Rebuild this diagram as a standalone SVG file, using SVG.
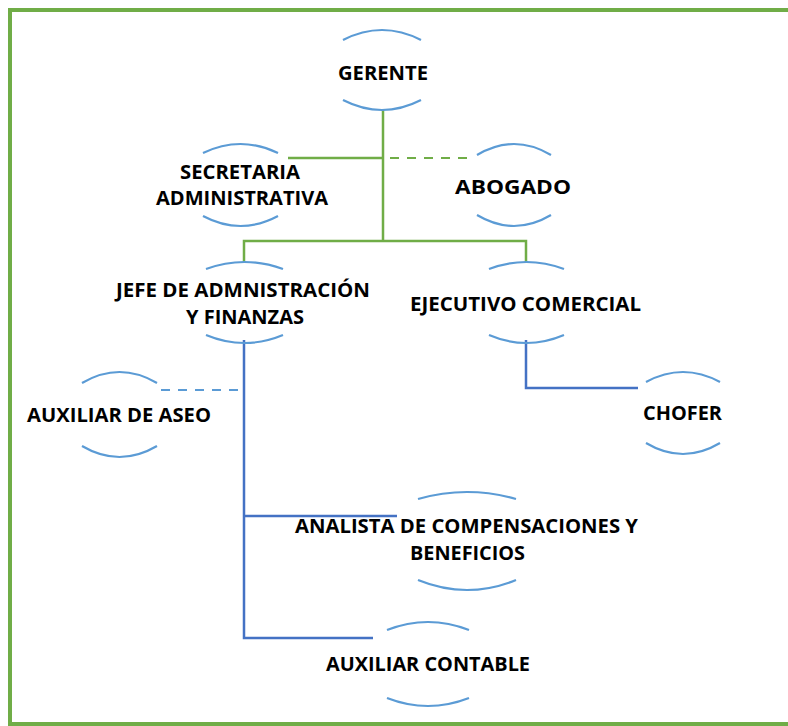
<svg xmlns="http://www.w3.org/2000/svg" width="788" height="726" viewBox="0 0 788 726">
<style>
.arc{fill:none;stroke:#5B9BD5;stroke-width:2.2;stroke-linecap:butt}
.t{font-family:"Open Sans","Liberation Sans",sans-serif;font-weight:bold;font-size:20px;fill:#000;text-anchor:middle}
.g{fill:none;stroke:#70AD47;stroke-width:2.5}
.gd{fill:none;stroke:#70AD47;stroke-width:2;stroke-dasharray:9 8}
.b{fill:none;stroke:#4472C4;stroke-width:2.5}
.bd{fill:none;stroke:#5B9BD5;stroke-width:2;stroke-dasharray:9 8}
</style>
<rect x="0" y="0" width="788" height="726" fill="#fff"/>
<path id="frame" d="M788 10H10V724H788" fill="none" stroke="#70AD47" stroke-width="4"/>
<g id="connectors">
<path class="g" d="M383 110V241M288 158H383M244 262V241H526V262"/>
<path class="gd" d="M390 158H470"/>
<path class="b" d="M244 340V638H373M244 516H397M526 340V388H638"/>
<path class="bd" d="M161 390H239"/>
</g>
<g id="gerente">
<path class="arc" d="M343 40Q382 20 421 40M343 100Q382 120 421 100"/>
<text class="t" x="383" y="80" font-size="22" textLength="90" lengthAdjust="spacingAndGlyphs">GERENTE</text>
</g>
<g id="secretaria">
<path class="arc" d="M203 153Q240.5 135 278 153M203 216Q240.5 236 278 216"/>
<text class="t" x="240" y="179" textLength="120" lengthAdjust="spacingAndGlyphs">SECRETARIA</text>
<text class="t" x="242" y="205" textLength="172" lengthAdjust="spacingAndGlyphs">ADMINISTRATIVA</text>
</g>
<g id="abogado">
<path class="arc" d="M477 155Q514 133 551 155M477 215Q514 237 551 215"/>
<text class="t" x="513" y="194" font-size="24" textLength="116" lengthAdjust="spacingAndGlyphs">ABOGADO</text>
</g>
<g id="jefe">
<path class="arc" d="M206 269Q244.5 255 283 269M206 335Q244.5 351 283 335"/>
<text class="t" x="243" y="297" textLength="254" lengthAdjust="spacingAndGlyphs">JEFE DE ADMNISTRACIÓN</text>
<text class="t" x="245" y="324" textLength="118" lengthAdjust="spacingAndGlyphs">Y FINANZAS</text>
</g>
<g id="ejecutivo">
<path class="arc" d="M489 269Q526.5 255 564 269M489 335Q526.5 351 564 335"/>
<text class="t" x="525.5" y="311" textLength="231" lengthAdjust="spacingAndGlyphs">EJECUTIVO COMERCIAL</text>
</g>
<g id="aseo">
<path class="arc" d="M82 383Q119.5 361 157 383M82 446Q119.5 468 157 446"/>
<text class="t" x="119" y="422" textLength="184" lengthAdjust="spacingAndGlyphs">AUXILIAR DE ASEO</text>
</g>
<g id="chofer">
<path class="arc" d="M646 382Q683 362 720 382M646 443Q683 465 720 443"/>
<text class="t" x="682.5" y="420" textLength="79" lengthAdjust="spacingAndGlyphs">CHOFER</text>
</g>
<g id="analista">
<path class="arc" d="M418 499Q467 485 516 499M418 580Q467 600 516 580"/>
<text class="t" x="466.5" y="533" textLength="343" lengthAdjust="spacingAndGlyphs">ANALISTA DE COMPENSACIONES Y</text>
<text class="t" x="467.5" y="560" textLength="115" lengthAdjust="spacingAndGlyphs">BENEFICIOS</text>
</g>
<g id="contable">
<path class="arc" d="M387 630Q428 614 469 630M387 698Q428 714 469 698"/>
<text class="t" x="428" y="671" textLength="204" lengthAdjust="spacingAndGlyphs">AUXILIAR CONTABLE</text>
</g>
</svg>
